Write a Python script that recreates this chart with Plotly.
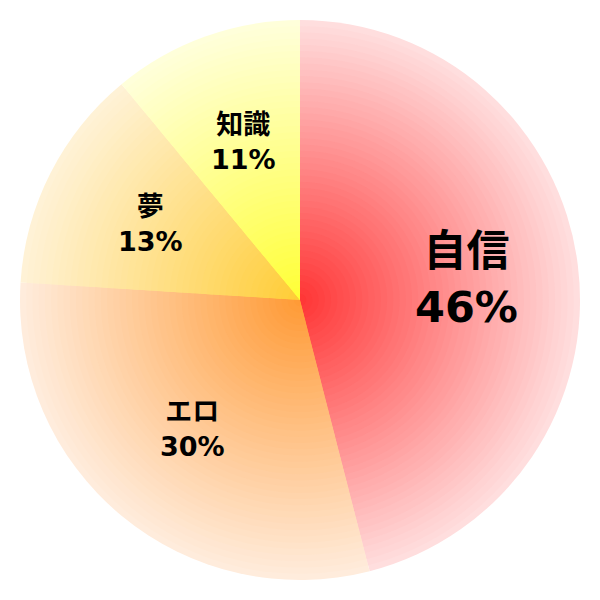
import numpy as np
import plotly.graph_objects as go

# slice data
labels = ['自信', 'エロ', '夢', '知識']
values = [46, 30, 13, 11]
# colour at the centre and at the rim of each slice (radial gradient)
center_colors = [(255, 51, 51), (255, 153, 51), (255, 204, 51), (255, 255, 51)]
edge_colors = [(255, 222, 222), (255, 236, 220), (255, 242, 214), (255, 255, 218)]
label_sizes = [43, 27, 27, 27]

n_rings = 45


def mix(c1, c2, t):
    return 'rgb(%d,%d,%d)' % tuple(round(a + (b - a) * t) for a, b in zip(c1, c2))


fig = go.Figure()

# fake a radial gradient by stacking full pies, biggest first
for i in range(n_rings):
    f = 1 - i / n_rings
    half = f / 2
    cols = [mix(c, e, f) for c, e in zip(center_colors, edge_colors)]
    fig.add_trace(go.Pie(
        labels=labels, values=values, sort=False, direction='clockwise', rotation=0,
        marker=dict(colors=cols, line=dict(width=0)),
        textinfo='none', hoverinfo='skip', showlegend=False,
        domain=dict(x=[0.5 - half, 0.5 + half], y=[0.5 - half, 0.5 + half]),
    ))

# labels placed at 60% of the radius, in the middle of each slice
total = sum(values)
cum = np.cumsum([0] + values[:-1])
for lab, v, c, size in zip(labels, values, cum, label_sizes):
    ang = 2 * np.pi * (c + v / 2) / total
    fig.add_annotation(
        x=0.5 + 0.3 * np.sin(ang), y=0.5 + 0.3 * np.cos(ang),
        xref='paper', yref='paper', showarrow=False,
        xanchor='center', yanchor='middle',
        text='<b>%s<br>%d%%</b>' % (lab, round(100 * v / total)),
        font=dict(size=size, color='black', family='DejaVu Sans, Noto Sans CJK JP'),
    )

# page body has an 8px margin, so shift the plot area up/left to centre at 300,300
fig.update_layout(
    width=600, height=600,
    margin=dict(l=12, r=28, t=12, b=28),
    paper_bgcolor='white', plot_bgcolor='white',
)

fig.write_html("out.html")
